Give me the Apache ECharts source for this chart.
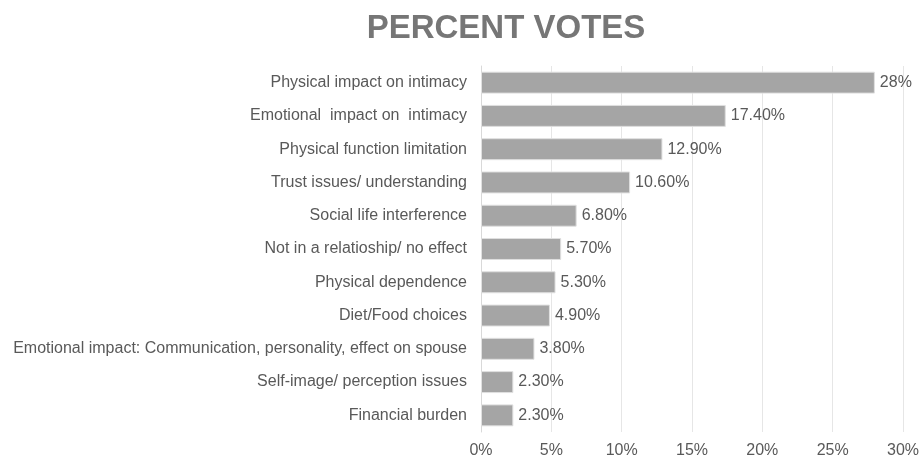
<!DOCTYPE html>
<html><head><meta charset="utf-8">
<script src="https://cdn.jsdelivr.net/npm/echarts@6/dist/echarts.min.js"></script>
<style>html,body{margin:0;padding:0;background:#fff}#c{width:919px;height:457px}</style>
</head><body><div id="c"></div>
<script>
const categories = [
  "Physical impact on intimacy",
  "Emotional  impact on  intimacy",
  "Physical function limitation",
  "Trust issues/ understanding",
  "Social life interference",
  "Not in a relatioship/ no effect",
  "Physical dependence",
  "Diet/Food choices",
  "Emotional impact: Communication, personality, effect on spouse",
  "Self-image/ perception issues",
  "Financial burden"
];
const values = [28, 17.4, 12.9, 10.6, 6.8, 5.7, 5.3, 4.9, 3.8, 2.3, 2.3];
const valueLabels = ["28%", "17.40%", "12.90%", "10.60%", "6.80%", "5.70%", "5.30%", "4.90%", "3.80%", "2.30%", "2.30%"];
const xTicks = [0, 5, 10, 15, 20, 25, 30];

const FONT = 'Liberation Sans, Arial, sans-serif';
const chart = echarts.init(document.getElementById('c'));
chart.setOption({
  animation: false,
  title: {
    text: 'PERCENT VOTES', left: 501, top: 7, textAlign: 'center',
    textStyle: { fontFamily: FONT, fontSize: 33, fontWeight: 'bold', color: '#767676' }
  },
  grid: { left: 481, right: 16, top: 66, bottom: 25, containLabel: false, outerBoundsMode: 'none' },
  xAxis: {
    type: 'value', min: 0, max: 30, interval: 5,
    axisLine: { show: false }, axisTick: { show: false },
    splitLine: { show: true, lineStyle: { color: '#e6e6e6', width: 1 } },
    axisLabel: {
      margin: 11, color: '#595959', fontSize: 16, fontFamily: FONT,
      formatter: v => xTicks.includes(v) ? v + '%' : ''
    }
  },
  yAxis: {
    type: 'category', inverse: true, data: categories,
    axisLine: { show: true, lineStyle: { color: '#d9d9d9' } },
    axisTick: { show: false },
    axisLabel: { margin: 14, color: '#595959', fontSize: 16, fontFamily: FONT }
  },
  series: [{
    type: 'bar', data: values, barCategoryGap: '34%',
    itemStyle: { color: '#a5a5a5', borderColor: '#e0e0e0', borderWidth: 1 },
    label: {
      show: true, position: 'right', distance: 5, color: '#595959', fontSize: 16,
      fontFamily: FONT,
      formatter: p => valueLabels[p.dataIndex]
    }
  }]
});
</script></body></html>
